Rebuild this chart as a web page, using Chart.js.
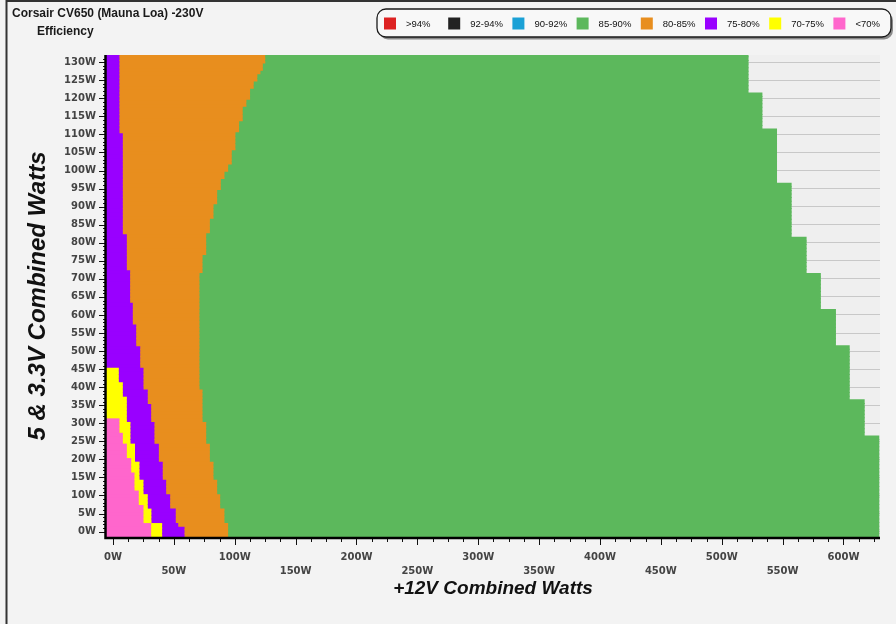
<!DOCTYPE html>
<html>
<head>
<meta charset="utf-8">
<title>Corsair CV650 (Mauna Loa) -230V Efficiency</title>
<script src="https://cdn.jsdelivr.net/npm/chart.js@4.4.1/dist/chart.umd.min.js"></script>
<style>
  html, body { margin: 0; padding: 0; background: #f3f3f3; }
  #wrap { width: 896px; height: 624px; }
  canvas { display: block; }
</style>
</head>
<body>
<div id="wrap"><canvas id="eff" width="896" height="624"></canvas></div>
<script>
// ---- texts ----
const chartTitle = 'Corsair CV650 (Mauna Loa) -230V';
const chartSubtitle = 'Efficiency';
const xTitle = '+12V Combined Watts';
const yTitle = '5 & 3.3V Combined Watts';

// ---- efficiency bands (legend order) ----
const bandNames  = ['>94%', '92-94%', '90-92%', '85-90%', '80-85%', '75-80%', '70-75%', '<70%'];
const bandColors = ['#dd2222', '#222222', '#1ba1d6', '#5cb85c', '#e88e1e', '#9900ff', '#ffff00', '#ff66cc'];

// ---- axis ranges (W) ----
const X_MIN = -5.75, X_MAX = 630;
const Y_MIN = -1.5,  Y_MAX = 132;

// 5V & 3.3V load rows, 1 W apart
const loadRows = [];
for (let r = -1; r <= 132; r++) loadRows.push(r);

// Band edges on the +12V axis.
// Each entry: [lowest 5V/3.3V load (W) where it applies, +12V load (W) where the band ends]
const pinkEdge = [[31.9, null], [28.0, 5.75], [24.3, 8.5], [20.6, 11.8], [16.4, 15.4],
  [11.4, 18.1], [7.7, 21.6], [3.0, 25.5], [-9, 31.8]];
const yellowEdge = [[45.5, null], [41.9, 5.2], [37.5, 8.5], [30.3, 11.8], [24.8, 14.8],
  [19.7, 18.5], [15.0, 22.2], [10.4, 25.5], [6.7, 29.0], [3.0, 32.0], [-9, 40.8]];
const purpleEdge = [[110.2, 5.75], [83.0, 8.5], [72.1, 11.8], [63.1, 14.5], [57.6, 16.7],
  [51.6, 19.5], [45.5, 22.8], [40.0, 25.5], [35.4, 29.0], [30.3, 31.8], [24.8, 34.5],
  [19.7, 38.1], [15.0, 41.3], [10.4, 44.1], [6.7, 47.4], [3.0, 52.0], [1.7, 54.0], [-9, 59.2]];
const orangeEdge = [[129.8, 125.5], [127.8, 123.5], [126.4, 121.5], [124.6, 119.0],
  [122.3, 116.0], [119.5, 113.0], [117.2, 110.0], [113.9, 107.0], [110.2, 104.0],
  [105.6, 101.0], [101.9, 98.0], [99.6, 95.0], [97.3, 92.0], [94.5, 89.0], [90.8, 86.0],
  [86.7, 83.0], [83.0, 80.0], [77.0, 77.0], [71.9, 74.0], [39.6, 71.5], [30.5, 74.0],
  [24.5, 77.0], [19.3, 80.0], [14.5, 83.0], [10.4, 86.0], [6.7, 88.5], [3.0, 92.0], [-9, 95.0]];
// highest +12V load tested for each 5V/3.3V load
const greenEdge = [[122, 521.6], [112, 533.0], [97, 545.0], [82, 557.0], [72, 569.3],
  [62, 581.0], [52, 593.4], [37, 604.7], [27, 617.0], [-9, 629.0]];

function edgeAt(edges, load) {
  for (const [from, w] of edges) if (load >= from) return w;
  return null;
}

// floating bar segments per band, built row by row
const seg = { green: [], orange: [], purple: [], yellow: [], pink: [] };
loadRows.forEach(r => {
  const p = edgeAt(pinkEdge, r), yl = edgeAt(yellowEdge, r), pu = edgeAt(purpleEdge, r),
        o = edgeAt(orangeEdge, r), g = edgeAt(greenEdge, r);
  let start = X_MIN;
  if (p !== null)  { seg.pink.push({ x: [start, p], y: r }); start = p; }
  if (yl !== null) { seg.yellow.push({ x: [start, yl], y: r }); start = yl; }
  seg.purple.push({ x: [start, pu], y: r }); start = pu;
  seg.orange.push({ x: [start, o], y: r });  start = o;
  seg.green.push({ x: [start, g], y: r });
});

const bandData = [[], [], [], seg.green, seg.orange, seg.purple, seg.yellow, seg.pink];

const datasets = bandNames.map((name, i) => ({
  label: name,
  data: bandData[i],
  backgroundColor: bandColors[i],
  borderWidth: 0,
  grouped: false,
  barPercentage: 1,
  categoryPercentage: 1,
  inflateAmount: 0.5
}));

// ---- drawing helpers ----
const tickFont = { family: 'DejaVu Sans', size: 10, weight: 'bold', lineHeight: 1.4 };

const backdrop = {
  id: 'backdrop',
  beforeDraw(chart) {
    const { ctx, width, height, chartArea: a } = chart;
    ctx.save();
    ctx.fillStyle = '#f3f3f3';
    ctx.fillRect(0, 0, width, height);
    ctx.fillStyle = '#efefef';
    ctx.fillRect(a.left, a.top, a.right - a.left, a.bottom - a.top);
    ctx.restore();
  }
};

const axesAndTicks = {
  id: 'axesAndTicks',
  afterDatasetsDraw(chart) {
    const { ctx, chartArea: a, scales: { x, y } } = chart;
    ctx.save();
    ctx.strokeStyle = '#111';
    ctx.lineWidth = 1;
    // minor and major ticks on the 12V axis
    ctx.beginPath();
    for (let v = 0; v <= X_MAX; v += 12.5) {
      const px = Math.round(x.getPixelForValue(v)) + 0.5;
      const len = v % 50 === 0 ? 8 : 5;
      ctx.moveTo(px, a.bottom);
      ctx.lineTo(px, a.bottom + len);
    }
    // minor and major ticks on the 5V/3.3V axis
    for (let v = 0; v <= 131; v += 1) {
      const py = Math.round(y.getPixelForValue(v)) + 0.5;
      const len = v % 5 === 0 ? 7 : 3;
      ctx.moveTo(a.left, py);
      ctx.lineTo(a.left - len, py);
    }
    ctx.stroke();
    // axis lines
    ctx.lineWidth = 2.5;
    ctx.strokeStyle = '#000';
    ctx.beginPath();
    ctx.moveTo(a.left - 0.5, a.top);
    ctx.lineTo(a.left - 0.5, a.bottom + 1);
    ctx.lineTo(a.right, a.bottom + 1);
    ctx.stroke();
    ctx.restore();
  }
};

const header = {
  id: 'header',
  afterDraw(chart) {
    const { ctx, width, height } = chart;
    ctx.save();
    // frame
    ctx.strokeStyle = '#333';
    ctx.lineWidth = 2;
    ctx.beginPath();
    ctx.moveTo(6.5, height);
    ctx.lineTo(6.5, 1);
    ctx.lineTo(width, 1);
    ctx.stroke();
    // titles
    ctx.fillStyle = '#1a1a1a';
    ctx.font = 'bold 12px "Liberation Sans", Arial, sans-serif';
    ctx.textBaseline = 'alphabetic';
    ctx.textAlign = 'left';
    ctx.fillText(chartTitle, 12, 17);
    ctx.fillText(chartSubtitle, 37, 35);

    // legend box
    const L = { left: 377, top: 9, w: 514, h: 28, r: 9 };
    ctx.fillStyle = '#8a8a8a';
    ctx.beginPath();
    ctx.roundRect(L.left + 2, L.top + 2.5, L.w, L.h, L.r);
    ctx.fill();
    ctx.fillStyle = '#f8f8f8';
    ctx.strokeStyle = '#1a1a1a';
    ctx.lineWidth = 1.3;
    ctx.beginPath();
    ctx.roundRect(L.left, L.top, L.w, L.h, L.r);
    ctx.fill();
    ctx.stroke();
    // legend items
    ctx.font = '9.5px "Liberation Sans", Arial, sans-serif';
    ctx.textBaseline = 'middle';
    chart.data.datasets.forEach((ds, i) => {
      const bx = 384 + i * 64.2;
      ctx.fillStyle = ds.backgroundColor;
      ctx.fillRect(bx, 17.5, 12, 12);
      ctx.fillStyle = '#111';
      ctx.fillText(ds.label, bx + 22, 24);
    });
    ctx.restore();
  }
};

new Chart(document.getElementById('eff'), {
  type: 'bar',
  data: { datasets },
  options: {
    indexAxis: 'y',
    responsive: false,
    animation: false,
    events: [],
    layout: { padding: { top: 55, right: 16, bottom: 0, left: 0 } },
    plugins: {
      legend: { display: false },
      tooltip: { enabled: false },
      title: { display: false }
    },
    scales: {
      x: {
        type: 'linear',
        position: 'bottom',
        offset: false,
        min: X_MIN,
        max: X_MAX,
        afterFit: s => { s.height = 87; },
        grid: { display: false, drawTicks: false, offset: false },
        border: { display: false },
        ticks: {
          stepSize: 50,
          includeBounds: false,
          autoSkip: false,
          maxRotation: 0,
          minRotation: 0,
          padding: 13,
          color: '#444',
          font: tickFont,
          callback: v => (v % 100 === 0 ? [v + 'W'] : ['', v + 'W'])
        },
        title: {
          display: true,
          text: xTitle,
          color: '#111',
          font: { family: 'Liberation Sans', size: 19, weight: 'bold', style: 'italic', lineHeight: 1.2 },
          padding: { top: 0, bottom: 24 }
        }
      },
      y: {
        type: 'linear',
        position: 'left',
        offset: false,
        min: Y_MIN,
        max: Y_MAX,
        afterFit: s => { s.width = 106; },
        grid: { color: '#c8c8c8', lineWidth: 1, drawTicks: false, offset: false },
        border: { display: false },
        ticks: {
          stepSize: 5,
          includeBounds: false,
          autoSkip: false,
          padding: 10,
          color: '#444',
          font: tickFont,
          callback: v => v + 'W'
        },
        title: {
          display: true,
          text: yTitle,
          color: '#111',
          font: { family: 'Liberation Sans', size: 24, weight: 'bold', style: 'italic', lineHeight: 1.2 },
          padding: { top: 24, bottom: 0 }
        }
      }
    }
  },
  plugins: [backdrop, axesAndTicks, header]
});
</script>
</body>
</html>
